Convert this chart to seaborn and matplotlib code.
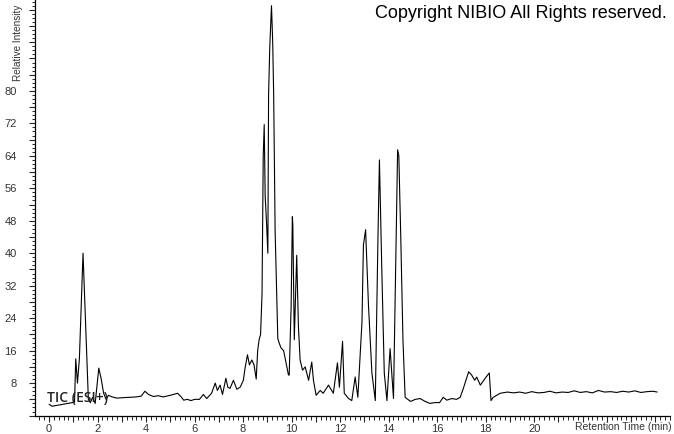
import matplotlib
matplotlib.use("Agg")
import matplotlib.pyplot as plt
import matplotlib.ticker as mticker
import pandas as pd
import seaborn as sns

# retention time (min) and relative intensity
time_min = [
    0.00, 0.12, 0.50, 1.05, 1.10, 1.17, 1.25, 1.40, 1.52, 1.62, 1.70, 1.80, 1.90,
    2.05, 2.15, 2.25, 2.35, 2.45, 2.60, 2.80, 3.00, 3.30, 3.60, 3.80, 3.95, 4.10,
    4.30, 4.50, 4.70, 5.00, 5.30, 5.45, 5.55, 5.70, 5.85, 6.00, 6.20, 6.36, 6.50,
    6.70, 6.85, 6.94, 7.05, 7.15, 7.29, 7.37, 7.46, 7.60, 7.74, 7.88, 8.01, 8.08,
    8.18, 8.26, 8.36, 8.45, 8.54, 8.60, 8.66, 8.72, 8.78, 8.83, 8.87, 8.91, 8.97,
    9.02, 9.05, 9.10, 9.17, 9.22, 9.26, 9.32, 9.39, 9.43, 9.48, 9.56, 9.67, 9.77,
    9.87, 9.90, 9.98, 10.03, 10.05, 10.11, 10.21, 10.28, 10.35, 10.45, 10.56,
    10.70, 10.83, 10.90, 11.01, 11.18, 11.30, 11.52, 11.72, 11.89, 11.97, 12.10,
    12.17, 12.35, 12.48, 12.62, 12.73, 12.90, 12.96, 13.05, 13.17, 13.31, 13.45,
    13.56, 13.62, 13.72, 13.82, 13.93, 14.06, 14.20, 14.31, 14.37, 14.42, 14.50,
    14.59, 14.68, 14.90, 15.10, 15.30, 15.50, 15.70, 15.90, 16.10, 16.25, 16.40,
    16.60, 16.80, 16.95, 17.08, 17.30, 17.42, 17.55, 17.63, 17.78, 17.98, 18.15,
    18.22, 18.31, 18.60, 18.90, 19.15, 19.40, 19.65, 19.90, 20.15, 20.40, 20.65,
    20.90, 21.15, 21.40, 21.65, 21.90, 22.15, 22.40, 22.65, 22.90, 23.15, 23.40,
    23.65, 23.90, 24.15, 24.40, 24.65, 24.90, 25.07,
]
intensity = [
    2.8, 2.3, 2.7, 3.3, 14.0, 8.0, 14.0, 40.0, 20.0, 4.0, 3.2, 4.5, 3.0,
    11.7, 9.0, 5.5, 4.0, 5.0, 4.6, 4.3, 4.4, 4.5, 4.6, 4.8, 6.0, 5.2,
    4.7, 4.9, 4.6, 5.0, 5.5, 4.6, 3.8, 4.0, 3.7, 4.0, 4.0, 5.2, 4.2,
    5.5, 8.0, 6.2, 7.5, 5.2, 9.2, 7.0, 6.7, 8.7, 6.5, 7.0, 8.7, 11.7,
    15.0, 12.5, 13.7, 12.5, 9.0, 16.0, 18.7, 20.0, 30.0, 64.0, 71.7, 54.0, 47.0,
    40.0, 79.0, 91.0, 101.0, 92.0, 79.0, 45.5, 29.0, 19.0, 18.0, 16.7, 16.0, 13.0,
    10.0, 10.0, 27.0, 49.0, 47.0, 18.7, 39.5, 22.0, 13.7, 11.2, 12.0,
    8.7, 13.2, 8.7, 5.0, 6.2, 5.5, 7.5, 5.5, 13.0, 7.0, 18.3,
    5.5, 4.2, 3.7, 9.5, 4.5, 23.0, 42.0, 45.8, 27.0, 10.5, 3.7,
    44.0, 63.0, 35.5, 10.5, 3.7, 16.5, 4.2, 44.0, 65.5, 64.0, 44.0,
    18.7, 4.5, 3.5, 4.0, 4.2, 3.5, 3.0, 3.2, 3.2, 4.5, 3.8,
    4.2, 4.0, 4.5, 6.7, 10.8, 10.0, 8.7, 9.5, 7.5, 9.2, 10.5,
    3.7, 4.5, 5.5, 5.8, 5.6, 5.8, 5.5, 5.9, 5.6, 5.7, 6.0,
    5.6, 5.8, 5.7, 6.1, 5.7, 5.9, 5.6, 6.2, 5.8, 5.9, 5.7,
    6.0, 5.8, 6.1, 5.7, 5.9, 6.0, 5.8,
]
x_tick_labels = [0, 2, 4, 6, 8, 10, 12, 14, 16, 18, 20]
y_tick_labels = [8, 16, 24, 32, 40, 48, 56, 64, 72, 80]

sns.set_style("ticks")
plt.rcParams["font.family"] = ["Liberation Sans", "DejaVu Sans"]

df = pd.DataFrame({"time": time_min, "intensity": intensity})

fig = plt.figure(figsize=(6.74, 4.34), dpi=100)
ax = fig.add_axes([35 / 674, 18 / 434, 635 / 674, 416 / 434])
sns.lineplot(data=df, x="time", y="intensity", color="black", linewidth=0.8, ax=ax)

ax.set_xlim(-0.58, 25.6)
ax.set_ylim(-0.1, 102.4)
ax.set_xlabel("")
ax.set_ylabel("")
sns.despine(ax=ax)
for side in ("left", "bottom"):
    ax.spines[side].set_linewidth(0.9)
    ax.spines[side].set_color("black")


def pick(labels):
    return lambda v, p: f"{v:.0f}" if abs(v - round(v)) < 1e-6 and round(v) in labels else ""


ax.xaxis.set_major_locator(mticker.MultipleLocator(1))
ax.xaxis.set_minor_locator(mticker.MultipleLocator(0.2))
ax.xaxis.set_major_formatter(mticker.FuncFormatter(pick(x_tick_labels)))
ax.yaxis.set_major_locator(mticker.MultipleLocator(4))
ax.yaxis.set_minor_locator(mticker.MultipleLocator(1))
ax.yaxis.set_major_formatter(mticker.FuncFormatter(pick(y_tick_labels)))
ax.tick_params(axis="x", which="major", length=4, width=0.8, pad=1.5, labelsize=8, labelcolor="#333333")
ax.tick_params(axis="x", which="minor", length=3, width=0.7)
ax.tick_params(axis="y", which="major", length=4, width=0.8, pad=9, labelsize=8, labelcolor="#333333")
ax.tick_params(axis="y", which="minor", length=2, width=0.7)

fig.text(18 / 674, 1 - 81 / 434, "Relative Intensity", rotation=90, ha="center",
         va="bottom", fontsize=7.2, color="#333333")
fig.text(672 / 674, 1 - 427 / 434, "Retention Time (min)", ha="right", va="center",
         fontsize=7.5, color="#333333")
fig.text(667 / 674, 1 - 14 / 434, "Copyright NIBIO All Rights reserved.", ha="right",
         va="center", fontsize=13, color="black")
ax.text(-0.1, 4.4, "TIC (ESI+)", ha="left", va="center", fontsize=10,
        fontweight="semibold", color="#222222", family=["Open Sans", "DejaVu Sans"])

fig.savefig("out.png", dpi=100)
